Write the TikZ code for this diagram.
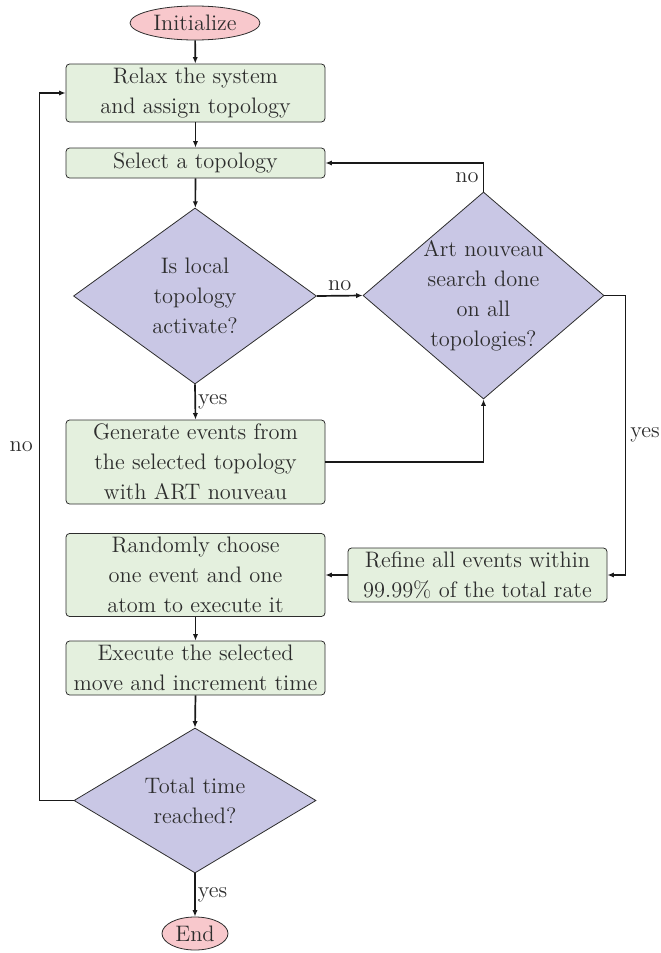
\documentclass[tikz,border=0pt]{standalone}
\usetikzlibrary{shapes.geometric,arrows.meta}
\definecolor{termfill}{RGB}{248,200,204}
\definecolor{procfill}{RGB}{228,240,222}
\definecolor{decfill}{RGB}{201,199,229}
\definecolor{inkgray}{RGB}{45,45,45}
\begin{document}
\begin{tikzpicture}[x=0.5pt,y=-0.5pt,
  every node/.style={font=\fontsize{11.2}{15}\selectfont, text=inkgray},
  terminal/.style={ellipse, draw=inkgray, line width=0.4pt, fill=termfill, inner sep=0pt},
  process/.style={rectangle, rounded corners=1.8pt, draw=inkgray, line width=0.4pt, fill=procfill,
    minimum width=129.5pt, inner sep=0.5pt, align=center},
  decision/.style={diamond, draw=inkgray, line width=0.4pt, fill=decfill, inner sep=0pt},
  dectext/.style={align=center, inner sep=0pt},
  arr/.style={line width=0.85pt, draw=black!90, -{Latex[length=3.2pt,width=2.6pt]}},
  tag/.style={inner sep=2pt}]
\useasboundingbox (0,0) rectangle (660,953);

% nodes
\node[terminal, minimum width=65pt, minimum height=17pt] (init) at (195,23) {Initialize};
\node[process, minimum height=29pt] (relax) at (195.5,93) {Relax the system\\and assign topology};
\node[process, minimum height=15pt] (select) at (195.5,163) {Select a topology};
\node[decision, minimum width=121.5pt, minimum height=88pt] (local) at (195,296) {};
\node[dectext] (localtxt) at (local.center) {Is local\\topology\\activate?};
\node[decision, minimum width=120.5pt, minimum height=103.5pt] (search) at (483.5,295.5) {};
\node[dectext] (searchtxt) at (search.center) {Art nouveau\\search done\\on all\\topologies?};
\node[process, minimum height=42pt] (gen) at (195.5,462) {Generate events from\\the selected topology\\with ART nouveau};
\node[process, minimum height=27pt] (refine) at (477.5,575) {Refine all events within\\99.99\% of the total rate};
\node[process, minimum height=41.5pt] (pick) at (195.5,575) {Randomly choose\\one event and one\\atom to execute it};
\node[process, minimum height=27pt] (exec) at (195.5,668) {Execute the selected\\move and increment time};
\node[decision, minimum width=121pt, minimum height=72.5pt] (done) at (195,800.5) {};
\node[dectext] (donetxt) at (done.center) {Total time\\reached?};
\node[terminal, minimum width=33pt, minimum height=16.5pt] (finish) at (195,933.5) {End};

% connectors
\draw[arr] (init) -- (relax);
\draw[arr] (relax) -- (select);
\draw[arr] (select) -- (local);
\draw[arr] (local.east) -- node[tag, above]{no} (search.west);
\draw[arr] (search.north) |- node[tag, pos=0.25, left]{no} (select.east);
\draw[arr] (local.south) -- node[tag, right, inner sep=1pt]{yes} (gen.north);
\draw[arr] (gen.east) -| (search.south);
\draw[arr] (search.east) -- ++(21,0) |- node[tag, pos=0.25, right]{yes} (refine.east);
\draw[arr] (refine.west) -- (pick.east);
\draw[arr] (pick) -- (exec);
\draw[arr] (exec.south) -- (done.north);
\draw[arr] (done.west) -- ++(-34,0) |- node[tag, pos=0.25, left, inner sep=3pt]{no} (relax.west);
\draw[arr] (done.south) -- node[tag, right, inner sep=1pt]{yes} (finish.north);
\end{tikzpicture}
\end{document}
